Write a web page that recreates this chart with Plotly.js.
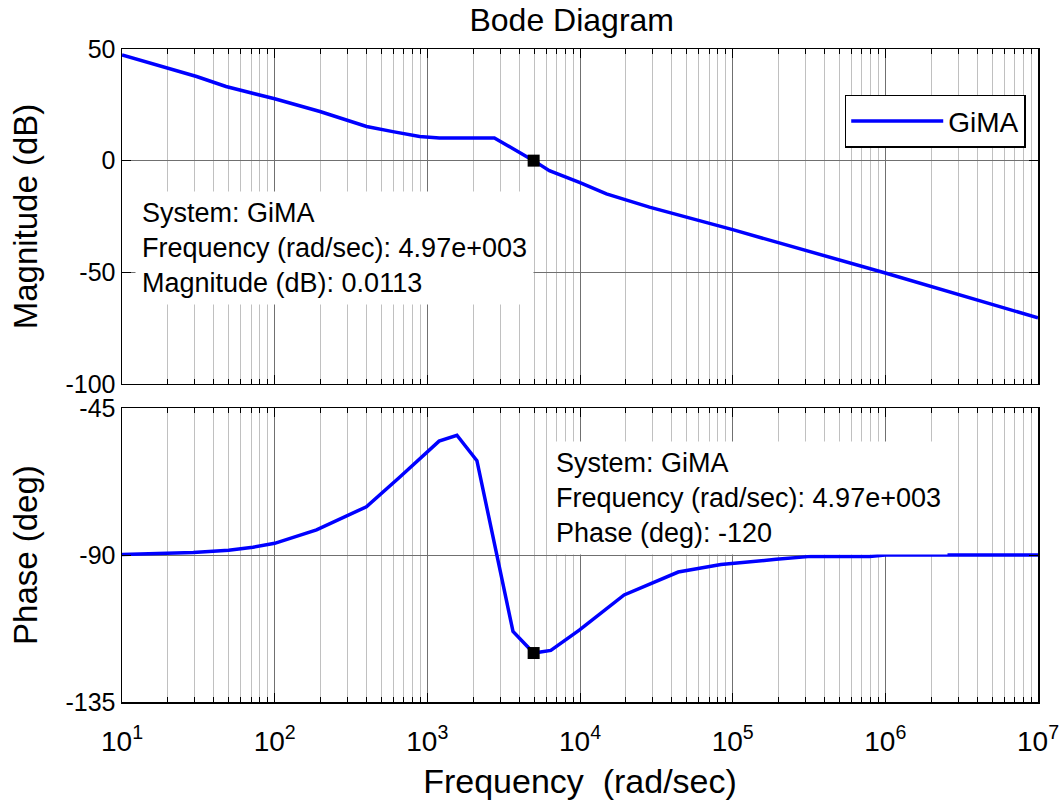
<!DOCTYPE html>
<html><head><meta charset="utf-8">
<script src="https://cdn.plot.ly/plotly-3.0.1.min.js"></script>
<style>html,body{margin:0;padding:0;background:#fff}#chart{width:1062px;height:800px}</style>
</head><body><div id="chart"></div>
<script>
// Magnitude curve
const freqMag = [10, 20, 30.8, 48, 100, 198, 296, 400, 594, 890, 1200, 2750, 4970, 6300, 10000, 14900, 28500, 100000, 1000000, 10000000];
const magDb   = [47.3, 41.5, 37.7, 33.2, 27.7, 22.0, 18.3, 15.3, 13.0, 10.8, 10.2, 10.2, 0.0113, -4.5, -9.8, -14.9, -20.8, -30.9, -50.3, -70.4];
// Phase curve
const freqPh   = [10, 20, 29.3, 50, 72, 100, 188, 399, 488, 661, 1194, 1563, 2113, 3640, 4970, 6440, 9890, 19450, 44000, 83800, 193000, 325000, 789000, 1000000, 10000000];
const phaseDeg = [-89.8, -89.5, -89.2, -88.5, -87.6, -86.4, -82.3, -75.2, -71.6, -66.1, -55.1, -53.3, -61.1, -113.4, -120, -119.2, -113, -102.2, -95.2, -92.9, -91.3, -90.4, -90.4, -90, -90];
// Data tip
const tipFreq = [4970];
const tipMag = [0.0113];
const tipPhase = [-120];
const seriesName = 'GiMA';
// Ticks
const xTickVals = [10, 100, 1000, 10000, 100000, 1000000, 10000000];
const xTickText = ['10<sup>1</sup>', '10<sup>2</sup>', '10<sup>3</sup>', '10<sup>4</sup>', '10<sup>5</sup>', '10<sup>6</sup>', '10<sup>7</sup>'];
const magTickVals = [-100, -50, 0, 50];
const magTickText = ['-100', '-50', '0', '50'];
const phTickVals = [-135, -90, -45];
const phTickText = ['-135', '-90', '-45'];

const minorVals = [];
for (let e = 1; e < 7; e++) for (let m = 2; m <= 9; m++) minorVals.push(m * Math.pow(10, e));

const FONT = 'Liberation Sans, Arial, sans-serif';
const blue = '#0000ff';

const traces = [
  {x: freqMag, y: magDb, xaxis: 'x', yaxis: 'y', mode: 'lines', name: seriesName,
   line: {color: blue, width: 3.5}, showlegend: true},
  {x: freqPh, y: phaseDeg, xaxis: 'x2', yaxis: 'y2', mode: 'lines', name: seriesName,
   line: {color: blue, width: 3.5}, showlegend: false},
  {x: tipFreq, y: tipMag, xaxis: 'x', yaxis: 'y', mode: 'markers', showlegend: false,
   marker: {symbol: 'square', size: 12, color: '#000'}},
  {x: tipFreq, y: tipPhase, xaxis: 'x2', yaxis: 'y2', mode: 'markers', showlegend: false,
   marker: {symbol: 'square', size: 12, color: '#000'}}
];

function xAxis(extra) {
  return Object.assign({
    type: 'log', range: [1, 7], tickmode: 'array', tickvals: xTickVals, ticktext: xTickText,
    showgrid: true, gridcolor: '#707070', gridwidth: 1,
    minor: {tickmode: 'array', tickvals: minorVals, showgrid: true, gridcolor: '#c0c0c0', gridwidth: 1,
            ticks: 'inside', ticklen: 5, tickcolor: '#000', tickwidth: 1},
    ticks: 'inside', ticklen: 9, tickcolor: '#000', tickwidth: 1,
    showline: true, linecolor: '#000', linewidth: 1.5, mirror: 'ticks', zeroline: false,
    tickfont: {family: FONT, size: 28, color: '#000'}
  }, extra);
}
function yAxis(extra) {
  return Object.assign({
    tickmode: 'array', showgrid: true, gridcolor: '#707070', gridwidth: 1,
    ticks: 'inside', ticklen: 9, tickcolor: '#000', tickwidth: 1,
    showline: true, linecolor: '#000', linewidth: 1.5, mirror: 'ticks', zeroline: false,
    tickfont: {family: FONT, size: 25, color: '#000'}
  }, extra);
}

const layout = {
  width: 1062, height: 800,
  margin: {l: 122, r: 24, t: 49, b: 98, autoexpand: false},
  paper_bgcolor: '#fff', plot_bgcolor: '#fff',
  font: {family: FONT, color: '#000'},
  title: {text: 'Bode Diagram', font: {family: FONT, size: 32, color: '#000'},
          x: 0.491, xref: 'paper', xanchor: 'center', y: 0.975, yref: 'container', yanchor: 'middle'},
  showlegend: true,
  legend: {x: 0.789, y: 0.93, xanchor: 'left', yanchor: 'top', bgcolor: '#fff',
           bordercolor: '#000', borderwidth: 1.5, font: {family: FONT, size: 28, color: '#000'},
           itemwidth: 92},
  xaxis: xAxis({anchor: 'y', matches: 'x2', showticklabels: false}),
  xaxis2: xAxis({anchor: 'y2', ticklabelstandoff: 14,
                 title: {text: 'Frequency  (rad/sec)', font: {family: FONT, size: 34, color: '#000'}, standoff: 18}}),
  yaxis: yAxis({domain: [0.487, 1], range: [-100, 50], tickvals: magTickVals, ticktext: magTickText,
                title: {text: 'Magnitude (dB)', font: {family: FONT, size: 33, color: '#000'}, standoff: 18}}),
  yaxis2: yAxis({domain: [0, 0.45], range: [-135, -45], tickvals: phTickVals, ticktext: phTickText,
                 title: {text: 'Phase (deg)', font: {family: FONT, size: 33, color: '#000'}, standoff: 18}}),
  annotations: [
    {xref: 'paper', yref: 'paper', x: 0.014, y: 0.783, xanchor: 'left', yanchor: 'top', align: 'left',
     showarrow: false, bgcolor: '#fff', borderpad: 6,
     text: 'System: GiMA<br>Frequency (rad/sec): 4.97e+003<br>Magnitude (dB): 0.0113',
     font: {family: FONT, size: 27, color: '#000'}},
    {xref: 'paper', yref: 'paper', x: 0.466, y: 0.40, xanchor: 'left', yanchor: 'top', align: 'left',
     showarrow: false, bgcolor: '#fff', borderpad: 6,
     text: 'System: GiMA<br>Frequency (rad/sec): 4.97e+003<br>Phase (deg): -120',
     font: {family: FONT, size: 27, color: '#000'}}
  ]
};

Plotly.newPlot('chart', traces, layout, {displayModeBar: false, staticPlot: true});
</script></body></html>
